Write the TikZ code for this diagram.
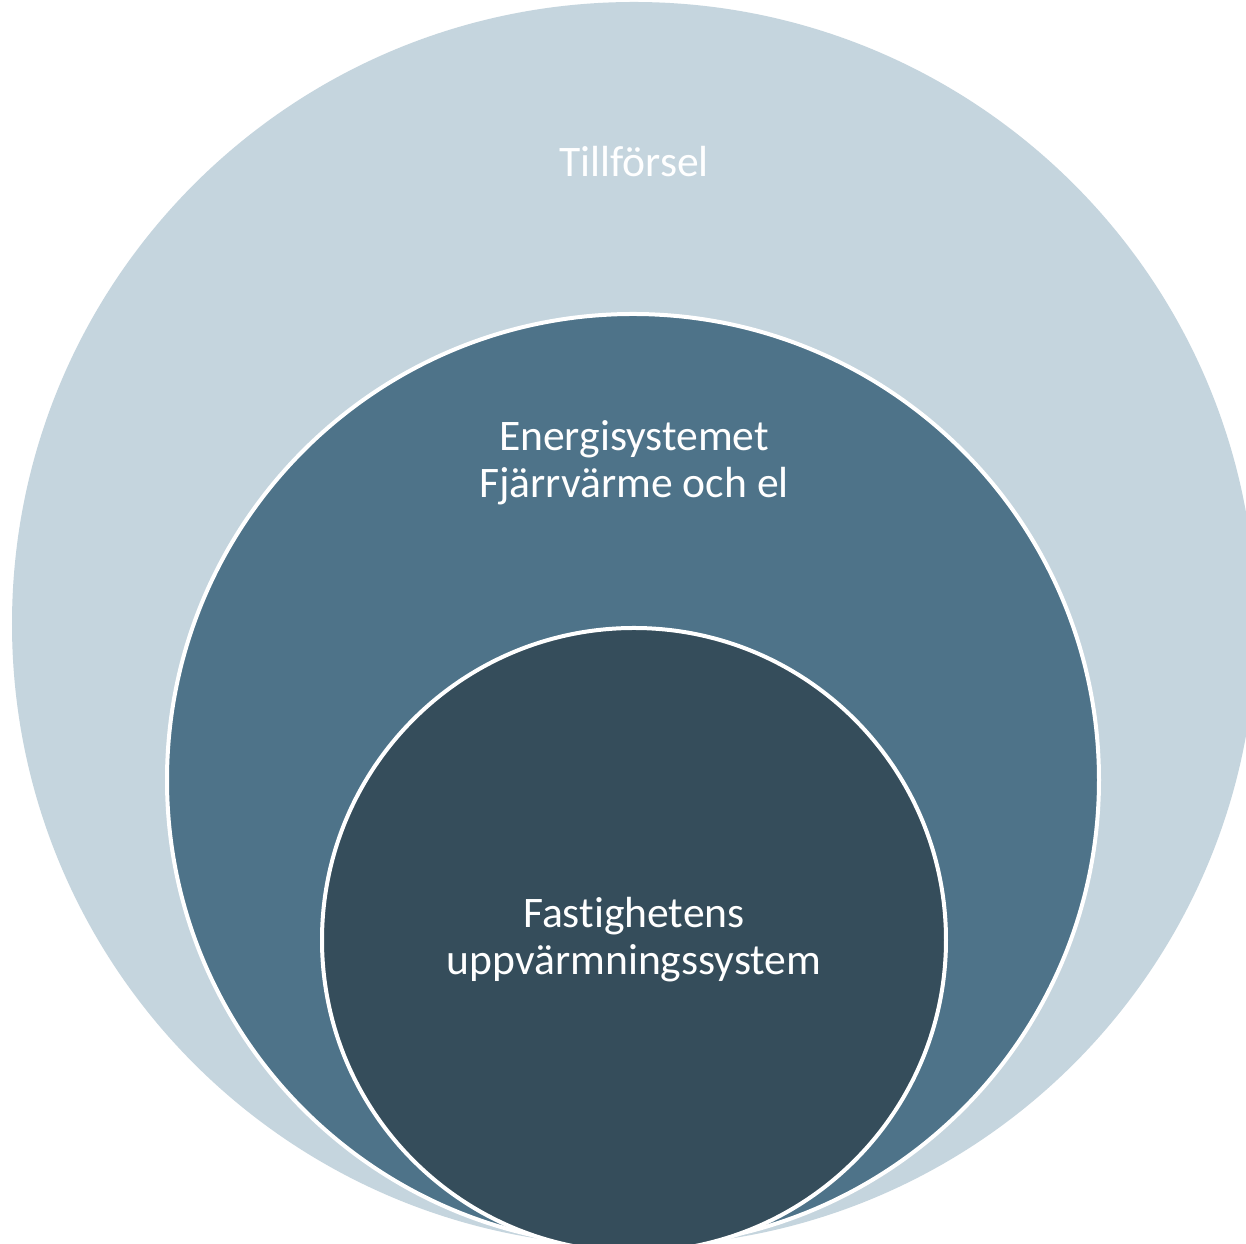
\documentclass[tikz,border=0pt]{standalone}
\usepackage{fontspec}
\setmainfont{Carlito}[Ligatures={NoCommon}]
\usetikzlibrary{calc}
\definecolor{tillfc}{HTML}{C5D5DE}
\definecolor{energic}{HTML}{4E7389}
\definecolor{fastc}{HTML}{354D5B}
\tikzset{ring/.style={draw=white, line width=0.4mm}, lbl/.style={text=white, align=center, font=\fontsize{12.4}{13.4}\selectfont}}

\begin{document}
\begin{tikzpicture}
			%%%%% START %%%%%
			
			\clip (0, 0) rectangle (12.46, 12.44);
			\fill[white] (0, 0) rectangle (12.46, 12.44);
			
			\fill[tillfc] (6.34, 6.20) circle (6.22);
			\draw[ring, fill=energic] (6.33, 4.64) circle (4.66);
			\draw[ring, fill=fastc] (6.34, 3.04) circle (3.12);
			
			\node[lbl] (tillf) at (6.34, 10.82) {Tillförsel};
			\node[lbl] (energi) at (6.34, 7.81) {Energisystemet\\Fjärrvärme och el};
			\node[lbl] (fastig) at (6.34, 3.04) {Fastighetens\\uppvärmningssystem};
			
			%%%%% END %%%%%
\end{tikzpicture}
\end{document}
